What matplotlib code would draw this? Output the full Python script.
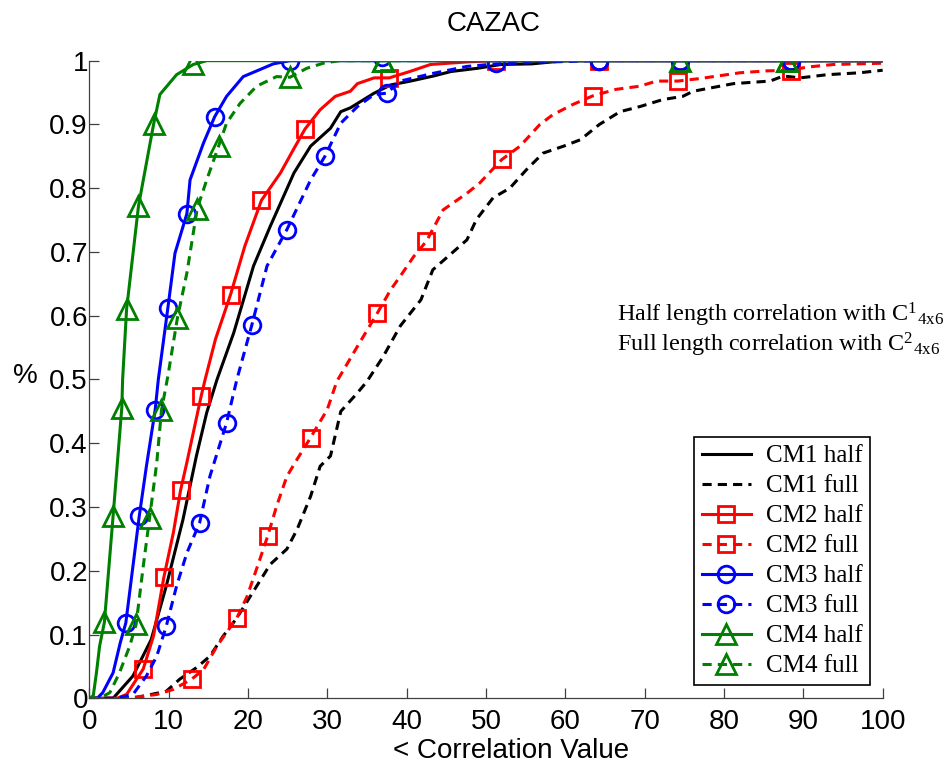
import matplotlib
matplotlib.use('Agg')
import matplotlib.pyplot as plt
from matplotlib.lines import Line2D

plt.rcParams['font.family'] = 'Liberation Sans'
plt.rcParams['mathtext.fontset'] = 'custom'
plt.rcParams['mathtext.rm'] = 'Liberation Serif'
plt.rcParams['mathtext.it'] = 'Liberation Serif:italic'

# CDF curves: x = correlation value, y = fraction
cm1_half_x = [0, 3.0, 5.5, 7.8, 9.7, 11.8, 13.5, 14.8, 16.1, 18.2, 20.7, 22.8, 25.8, 27.9, 30.4, 31.7,
              32.9, 35.9, 38.0, 40.5, 43.4, 45.6, 48.9, 51.9, 55.8, 60.0, 100]
cm1_half_y = [0, 0, 0.035, 0.092, 0.176, 0.28, 0.38, 0.448, 0.5, 0.573, 0.678, 0.74, 0.824, 0.866, 0.894, 0.92,
              0.926, 0.949, 0.962, 0.968, 0.976, 0.983, 0.988, 0.994, 0.995, 1.0, 1.0]

cm1_full_x = [0, 5.5, 9.7, 11.4, 13.5, 15.2, 16.9, 18.6, 20.3, 22.8, 24.9, 26.2, 27.9, 29.1, 30.4, 31.7,
              33.8, 35.0, 37.0, 39.2, 41.8, 43.3, 47.6, 48.8, 50.9, 53.0, 55.1, 57.2, 59.8, 61.9, 64.3,
              66.9, 69.4, 72.3, 74.8, 76.1, 79.5, 81.2, 85.8, 87.5, 89.6, 93.0, 97.1, 100]
cm1_full_y = [0, 0, 0.011, 0.03, 0.048, 0.066, 0.098, 0.126, 0.16, 0.21, 0.234, 0.265, 0.317, 0.364, 0.38, 0.45,
              0.479, 0.497, 0.535, 0.584, 0.625, 0.672, 0.719, 0.751, 0.785, 0.8, 0.829, 0.855, 0.866, 0.876, 0.9,
              0.92, 0.928, 0.939, 0.944, 0.952, 0.96, 0.964, 0.968, 0.976, 0.973, 0.978, 0.981, 0.985]

cm2_half_x = [0, 3.5, 4.7, 6.8, 8.1, 9.4, 10.6, 11.5, 12.3, 14.1, 14.6, 15.9, 17.8, 19.6, 21.7, 24.1, 25.7,
              27.2, 29.1, 31.0, 32.9, 33.8, 35.9, 37.8, 40.4, 43.0, 47.6, 51.0, 100]
cm2_half_y = [0, 0, 0.006, 0.046, 0.098, 0.19, 0.26, 0.326, 0.37, 0.474, 0.5, 0.563, 0.633, 0.709, 0.781, 0.824, 0.86,
              0.893, 0.923, 0.944, 0.952, 0.964, 0.973, 0.973, 0.983, 0.994, 0.998, 1.0, 1.0]
cm2_half_mx = [6.8, 9.4, 11.5, 14.1, 17.8, 21.7, 27.2, 37.8, 51.3, 64.2, 74.4, 88.4]
cm2_half_my = [0.046, 0.19, 0.326, 0.474, 0.633, 0.781, 0.893, 0.973, 1.0, 1.0, 1.0, 1.0]

cm2_full_x = [0, 4.5, 8.5, 10.6, 12.9, 14.4, 16.1, 18.6, 19.9, 21.5, 22.5, 23.6, 24.9, 26.2, 27.9, 30.0, 31.2,
              33.8, 36.3, 38.0, 39.2, 40.9, 42.5, 44.6, 47.6, 49.2, 52.0, 54.3, 56.8, 58.4, 60.9, 63.5,
              66.4, 69.4, 71.5, 74.2, 77.0, 82.0, 85.4, 88.4, 90.5, 93.8, 100]
cm2_full_y = [0, 0, 0.006, 0.014, 0.03, 0.045, 0.082, 0.126, 0.16, 0.218, 0.255, 0.301, 0.348, 0.375, 0.409, 0.453, 0.497,
              0.552, 0.604, 0.641, 0.662, 0.693, 0.717, 0.766, 0.792, 0.808, 0.845, 0.866, 0.9, 0.915, 0.931, 0.945,
              0.955, 0.96, 0.968, 0.968, 0.972, 0.981, 0.984, 0.985, 0.99, 0.994, 0.996]
cm2_full_mx = [12.9, 18.6, 22.5, 27.9, 36.3, 42.5, 52.0, 63.5, 74.2, 88.4]
cm2_full_my = [0.03, 0.126, 0.255, 0.409, 0.604, 0.717, 0.845, 0.945, 0.968, 0.984]

cm3_half_x = [0, 1.0, 1.7, 3.0, 3.9, 4.6, 5.5, 6.3, 7.2, 8.3, 8.7, 9.9, 10.8, 12.3, 12.7, 14.4, 15.8, 17.3,
              19.4, 21.5, 23.2, 25.3, 100]
cm3_half_y = [0, 0, 0.009, 0.04, 0.087, 0.118, 0.207, 0.286, 0.364, 0.452, 0.5, 0.612, 0.698, 0.76, 0.813, 0.871, 0.912, 0.944,
              0.975, 0.986, 0.995, 1.0, 1.0]
cm3_half_mx = [4.6, 6.3, 8.3, 9.9, 12.3, 15.8, 25.3, 36.9, 64.2, 88.4]
cm3_half_my = [0.118, 0.286, 0.452, 0.612, 0.76, 0.912, 1.0, 1.005, 1.0, 1.0]

cm3_full_x = [0, 3.4, 5.5, 7.2, 8.5, 9.7, 11.0, 12.3, 13.9, 15.2, 17.3, 18.6, 20.5, 22.4, 24.9, 27.9, 29.7,
              31.7, 33.8, 35.9, 37.5, 39.2, 43.3, 47.6, 51.3, 58.0, 64.0, 100]
cm3_full_y = [0, 0, 0.006, 0.035, 0.066, 0.113, 0.176, 0.228, 0.275, 0.348, 0.432, 0.5, 0.586, 0.678, 0.735, 0.813, 0.85,
              0.902, 0.928, 0.947, 0.949, 0.968, 0.98, 0.991, 0.995, 0.998, 1.0, 1.0]
cm3_full_mx = [9.7, 13.9, 17.3, 20.5, 24.9, 29.7, 37.5, 51.3, 64.2, 74.4, 88.4]
cm3_full_my = [0.113, 0.275, 0.432, 0.586, 0.735, 0.85, 0.949, 0.996, 1.0, 1.0, 1.0]

cm4_half_x = [0, 0.5, 0.9, 1.3, 1.9, 3.0, 4.1, 4.2, 4.7, 6.2, 8.1, 8.9, 11.0, 13.1, 14.8, 100]
cm4_half_y = [0, 0.004, 0.04, 0.082, 0.119, 0.286, 0.456, 0.5, 0.61, 0.772, 0.9, 0.947, 0.978, 0.994, 1.0, 1.0]
cm4_half_mx = [1.9, 3.0, 4.1, 4.7, 6.2, 8.1, 13.1, 37.0, 88.0]
cm4_half_my = [0.119, 0.286, 0.456, 0.61, 0.772, 0.9, 0.994, 1.0, 1.0]

cm4_full_x = [0, 1.3, 2.6, 3.8, 5.1, 5.9, 6.8, 7.6, 8.5, 9.1, 9.9, 11.1, 12.3, 13.6, 14.8, 16.3, 17.3, 19.0,
              21.1, 23.6, 25.3, 27.4, 29.5, 31.5, 100]
cm4_full_y = [0, 0, 0.009, 0.04, 0.082, 0.116, 0.207, 0.283, 0.369, 0.452, 0.505, 0.596, 0.667, 0.768, 0.813, 0.866, 0.902,
              0.933, 0.96, 0.975, 0.974, 0.988, 0.996, 1.0, 1.0]
cm4_full_mx = [5.9, 7.6, 9.1, 11.1, 13.6, 16.3, 25.3, 37.0, 74.4, 88.0]
cm4_full_my = [0.116, 0.283, 0.452, 0.596, 0.768, 0.866, 0.974, 1.0, 1.0, 1.0]

x_ticks = list(range(0, 101, 10))
y_ticks = [0, 0.1, 0.2, 0.3, 0.4, 0.5, 0.6, 0.7, 0.8, 0.9, 1]
y_tick_labels = ['0', '0.1', '0.2', '0.3', '0.4', '0.5', '0.6', '0.7', '0.8', '0.9', '1']

green = '#008000'
lw = 2.2
dash = (3, 2)

fig = plt.figure(figsize=(9.53, 7.65), dpi=100)
ax = fig.add_axes([0.0937, 0.0872, 0.8325, 0.8335])

mk = dict(linestyle='none', markerfacecolor='none', markeredgewidth=2)

ax.plot(cm1_half_x, cm1_half_y, color='k', lw=lw)
ax.plot(cm1_full_x, cm1_full_y, color='k', lw=lw, dashes=dash)

ax.plot(cm2_half_x, cm2_half_y, color='r', lw=lw)
ax.plot(cm2_half_mx, cm2_half_my, marker='s', ms=11, markeredgecolor='r', **mk)
ax.plot(cm2_full_x, cm2_full_y, color='r', lw=lw, dashes=dash)
ax.plot(cm2_full_mx, cm2_full_my, marker='s', ms=11, markeredgecolor='r', **mk)

ax.plot(cm3_half_x, cm3_half_y, color='b', lw=lw)
ax.plot(cm3_half_mx, cm3_half_my, marker='o', ms=12, markeredgecolor='b', **mk)
ax.plot(cm3_full_x, cm3_full_y, color='b', lw=lw, dashes=dash)
ax.plot(cm3_full_mx, cm3_full_my, marker='o', ms=12, markeredgecolor='b', **mk)

ax.plot(cm4_half_x, cm4_half_y, color=green, lw=lw)
ax.plot(cm4_half_mx, cm4_half_my, marker='^', ms=14, markeredgecolor=green, **mk)
ax.plot(cm4_full_x, cm4_full_y, color=green, lw=lw, dashes=dash)
ax.plot(cm4_full_mx, cm4_full_my, marker='^', ms=14, markeredgecolor=green, **mk)

ax.set_xlim(0, 100)
ax.set_ylim(0, 1)
ax.set_xticks(x_ticks)
ax.set_yticks(y_ticks)
ax.set_yticklabels(y_tick_labels)
for s in ['top', 'right']:
    ax.spines[s].set_visible(False)
for s in ['left', 'bottom']:
    ax.spines[s].set_color('#404040')
    ax.spines[s].set_linewidth(0.9)
ax.tick_params(direction='in', length=7, width=0.9, color='#404040', labelsize=20)
ax.tick_params(axis='x', pad=8)
ax.tick_params(axis='y', pad=1)

ax.set_title('CAZAC', fontsize=20, pad=21, x=0.51)
ax.set_xlabel('< Correlation Value', fontsize=20, va='top')
ax.xaxis.set_label_coords(0.531, -0.062)
ax.set_ylabel('%', fontsize=20, rotation=0, va='center', ha='center')
ax.yaxis.set_label_coords(-0.081, 0.505)

ax.text(0.665, 0.591, r'Half length correlation with $\mathrm{C}^{1}{}_{\mathrm{4x6}}$',
        transform=ax.transAxes, family='Liberation Serif', fontsize=17.4, va='baseline')
ax.text(0.665, 0.544, r'Full length correlation with $\mathrm{C}^{2}{}_{\mathrm{4x6}}$',
        transform=ax.transAxes, family='Liberation Serif', fontsize=17.4, va='baseline')

handles = [
    Line2D([], [], color='k', lw=lw),
    Line2D([], [], color='k', lw=lw, dashes=dash),
    Line2D([], [], color='r', lw=lw, marker='s', ms=11, mfc='none', mew=2),
    Line2D([], [], color='r', lw=lw, dashes=dash, marker='s', ms=11, mfc='none', mew=2),
    Line2D([], [], color='b', lw=lw, marker='o', ms=12, mfc='none', mew=2),
    Line2D([], [], color='b', lw=lw, dashes=dash, marker='o', ms=12, mfc='none', mew=2),
    Line2D([], [], color=green, lw=lw, marker='^', ms=14, mfc='none', mew=2),
    Line2D([], [], color=green, lw=lw, dashes=dash, marker='^', ms=14, mfc='none', mew=2),
]
labels = ['CM1 half', 'CM1 full', 'CM2 half', 'CM2 full', 'CM3 half', 'CM3 full', 'CM4 half', 'CM4 full']
leg = ax.legend(handles, labels, loc='lower right', bbox_to_anchor=(0.984, 0.021), borderaxespad=0,
                prop={'family': 'Liberation Serif', 'size': 18}, fancybox=False, framealpha=1,
                edgecolor='k', handlelength=1.95, handletextpad=0.6, labelspacing=0.3, borderpad=0.3,
                numpoints=1)
leg.get_frame().set_linewidth(1.2)

fig.savefig('out.png', dpi=100)
